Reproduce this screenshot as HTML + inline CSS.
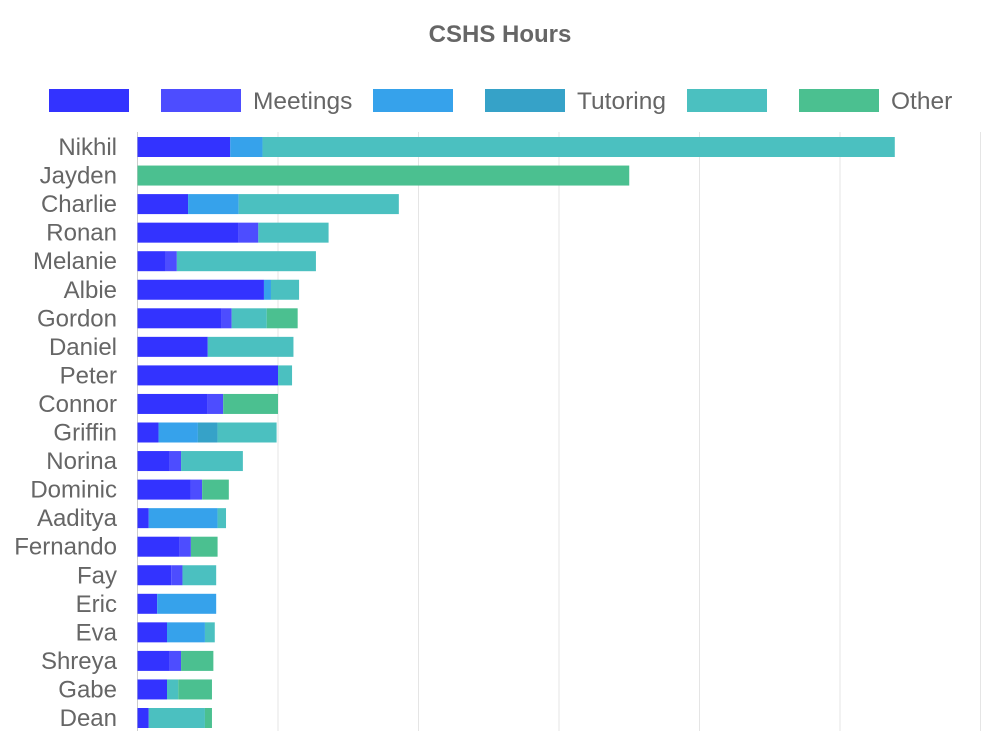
<!DOCTYPE html>
<html><head><meta charset="utf-8"><style>
body{margin:0;background:#fff;font-family:"Liberation Sans",sans-serif}
</style></head><body>
<svg id="chart" width="1000" height="731" xmlns="http://www.w3.org/2000/svg">
<text x="500" y="42" text-anchor="middle" font-size="24" font-weight="bold" fill="#666">CSHS Hours</text>
<g id="legend"></g>
<g id="grid"></g>
<g id="bars"></g>
<g id="labels"></g>
</svg>
<script>
const names=["Nikhil","Jayden","Charlie","Ronan","Melanie","Albie","Gordon","Daniel","Peter","Connor","Griffin","Norina","Dominic","Aaditya","Fernando","Fay","Eric","Eva","Shreya","Gabe","Dean"];
const seriesNames=["","Meetings","","Tutoring","","Other"];
const seriesColors=["#3333ff","#4d4dff","#36a2eb","#36a2c8","#4bc0c0","#4bc090"];
const s1=[6.6,0,3.6,7.2,2,9,6,5,10,5,1.5,2.3,3.8,0.8,3,2.4,1.4,2.1,2.3,2.1,0.8];
const s2=[0,0,0,1.4,0.8,0,0.7,0,0,1.1,0,0.8,0.8,0,0.8,0.8,0,0,0.8,0,0];
const s3=[2.3,0,3.6,0,0,0.5,0,0,0,0,2.8,0,0,4.9,0,0,4.2,2.7,0,0,0];
const s4=[0,0,0,0,0,0,0,0,0,0,1.4,0,0,0,0,0,0,0,0,0,0];
const s5=[45,0,11.4,5.0,9.9,2,2.5,6.1,1,0,4.2,4.4,0,0.6,0,2.4,0,0.7,0,0.8,4];
const s6=[0,35,0,0,0,0,2.2,0,0,3.9,0,0,1.9,0,1.9,0,0,0,2.3,2.4,0.5];
const ticks=[0,10,20,30,40,50,60];
const series=[s1,s2,s3,s4,s5,s6];
const NS="http://www.w3.org/2000/svg";
const x0=137.5,pxPer=14.05,y0=147,rowH=28.55,barH=20;
const X=v=>x0+v*pxPer, Y=i=>y0+i*rowH;
function mk(t,a,p){const e=document.createElementNS(NS,t);for(const k in a)e.setAttribute(k,a[k]);p.appendChild(e);return e;}
const grid=document.getElementById('grid');
ticks.forEach(t=>{const l=mk('line',{x1:X(t),x2:X(t),y1:132,y2:731,stroke:t===0?'#ccc':'#e5e5e5','stroke-width':1},grid);

});
const bars=document.getElementById('bars'),labels=document.getElementById('labels');
names.forEach((n,i)=>{let acc=0;
series.forEach((s,k)=>{const v=s[i];if(v>0){const r=mk('rect',{x:X(acc),y:Y(i)-barH/2,width:X(acc+v)-X(acc),height:barH,fill:seriesColors[k]},bars);

}acc+=v;});
const t=mk('text',{x:117,y:Y(i)+8,'text-anchor':'end','font-size':24,fill:'#666'},labels);t.textContent=n;

});
const legend=document.getElementById('legend');
const lx=[49,161,373,485,687,799];
seriesNames.forEach((s,k)=>{const r=mk('rect',{x:lx[k],y:89,width:80,height:23,fill:seriesColors[k]},legend);


if(s){const t=mk('text',{x:lx[k]+92,y:109,'font-size':24.5,fill:'#666'},legend);t.textContent=s;

}});
</script>
</body></html>
